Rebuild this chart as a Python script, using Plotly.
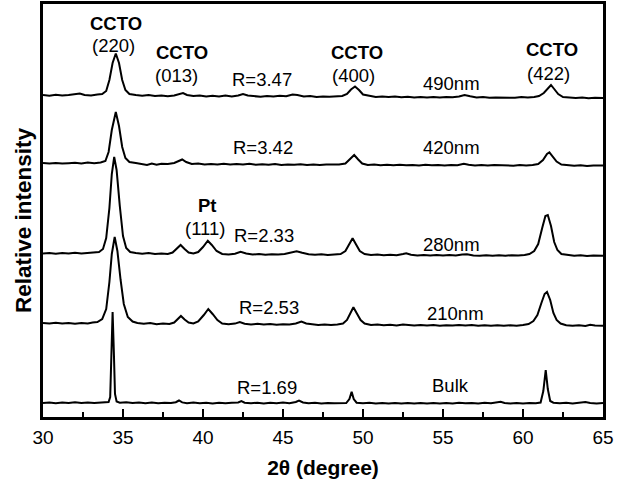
import plotly.graph_objects as go

# ---- data (2theta in degrees, relative intensity above each trace's own baseline) ----
pts_490 = [(30.0,1),(30.4,0.3),(30.8,1.2),(31.2,0.5),(31.6,1),(32.0,1.5),(32.3,2.5),(32.6,1),(33.0,0.5),(33.4,1.5),
           (33.7,2),(33.95,5),(34.15,16),(34.35,33),(34.55,42.5),(34.75,33),(34.95,16),(35.15,6),(35.4,2),(35.8,1),
           (36.2,0.3),(36.6,1),(37.0,0),(37.4,0.6),(37.8,-0.3),(38.2,0.5),(38.5,1.5),(38.75,3),(39.0,1),(39.4,0),
           (39.8,0.6),(40.2,-0.5),(40.6,0.3),(41.0,-0.4),(41.4,0.5),(41.8,-0.5),(42.2,0.5),(42.5,2),(42.8,0.5),(43.2,-0.3),
           (43.6,-0.8),(44.0,0),(44.4,-0.5),(44.8,0.2),(45.2,-0.3),(45.6,1.5),(45.9,1),(46.3,-0.5),(46.7,0),(47.1,-1),
           (47.5,-0.4),(47.9,-0.8),(48.3,-0.5),(48.7,0),(49.0,2),(49.25,6.5),(49.5,9.5),(49.75,6),(50.0,1.5),(50.4,0),
           (50.8,-1),(51.2,-0.5),(51.6,-1),(52.0,-0.6),(52.4,-1.2),(52.8,-0.8),(53.2,-1.5),(53.6,-1),(54.0,-1.4),(54.4,-1),
           (54.8,-1.5),(55.2,-1),(55.6,-1.3),(56.0,-0.5),(56.35,1),(56.7,-0.3),(57.1,-1.5),(57.5,-1),(57.9,-1.8),(58.3,-1.4),
           (58.7,-1.6),(59.1,-1.2),(59.5,-1.8),(59.9,-1),(60.3,-1.5),(60.7,-1),(61.0,0),(61.3,3),(61.55,8),(61.75,11),
           (61.95,7),(62.2,2),(62.5,-1),(62.9,-1.5),(63.3,-2),(63.7,-1.6),(64.1,-2.2),(64.5,-1.8),(65.0,-2)]

pts_420 = [(30.0,1),(30.4,0.4),(30.8,1),(31.2,0.5),(31.6,0.8),(32.0,1.2),(32.4,0.6),(32.8,1.4),(33.2,0.8),(33.6,1.5),
           (33.9,3),(34.1,12),(34.3,34),(34.55,52),(34.75,38),(34.95,17),(35.15,6),(35.4,2),(35.8,1),(36.2,0),
           (36.5,-1),(36.8,0.5),(37.1,-0.8),(37.4,0.3),(37.8,0),(38.2,1),(38.45,2.5),(38.7,4.5),(38.95,2),(39.3,0),
           (39.7,0.5),(40.1,-0.5),(40.5,0),(40.9,-0.6),(41.3,0.3),(41.7,-0.4),(42.1,0),(42.5,-0.6),(42.9,0.2),(43.3,-0.8),
           (43.7,-0.2),(44.1,-0.7),(44.5,0),(44.9,-0.9),(45.3,-0.4),(45.7,-0.8),(46.1,-0.2),(46.5,-1),(46.9,-0.5),(47.3,-1.1),
           (47.7,-0.6),(48.1,-0.9),(48.5,-0.5),(48.9,0.5),(49.2,5),(49.45,9),(49.7,4.5),(49.95,0.5),(50.3,-1),(50.7,-0.6),
           (51.1,-1.2),(51.5,-0.8),(51.9,-1.3),(52.3,-0.7),(52.7,-1.2),(53.1,-0.9),(53.5,-1.4),(53.9,-0.8),(54.3,-1.3),(54.7,-1),
           (55.1,-1.5),(55.5,-1),(55.9,-1.3),(56.3,0.2),(56.6,-0.8),(57.0,-1.5),(57.4,-1),(57.8,-1.6),(58.2,-1.1),(58.6,-1.5),
           (59.0,-1.2),(59.4,-1.7),(59.8,-1.1),(60.2,-1.5),(60.6,-1),(60.95,0),(61.25,4),(61.5,10),(61.65,11.7),(61.85,8),
           (62.1,2.5),(62.4,-0.5),(62.8,-1.3),(63.2,-1.8),(63.6,-1.3),(64.0,-1.9),(64.4,-1.4),(64.8,-1.8),(65.0,-1.5)]

pts_280 = [(30.0,0.5),(30.4,1),(30.8,0.3),(31.2,1),(31.6,0.5),(32.0,1.3),(32.4,0.6),(32.8,1),(33.2,1.6),(33.5,2),
           (33.75,5),(33.95,16),(34.15,46),(34.3,80),(34.45,97),(34.6,84),(34.8,48),(35.0,18),(35.2,6),(35.45,2),
           (35.8,1),(36.2,0.3),(36.6,1),(37.0,0),(37.4,0.6),(37.8,0),(38.1,1.5),(38.35,5),(38.6,9),(38.85,5),
           (39.1,1.5),(39.4,0.5),(39.7,2),(40.0,7),(40.3,13.3),(40.55,9),(40.85,3),(41.2,0),(41.6,-0.5),(42.0,0.3),
           (42.35,2.2),(42.7,0.5),(43.1,-0.5),(43.5,0),(43.9,-0.8),(44.3,-0.2),(44.7,-0.6),(45.1,0),(45.5,1.5),(45.85,2.8),
           (46.2,1.2),(46.6,-0.3),(47.0,-0.8),(47.4,-0.3),(47.8,-1),(48.2,-0.5),(48.6,0),(48.9,3),(49.15,10),(49.35,15.7),
           (49.55,10),(49.8,3),(50.1,0),(50.5,-1),(50.9,-0.5),(51.3,-1.2),(51.7,-0.8),(52.1,-1.3),(52.5,0),(52.7,0.8),
           (53.0,-0.8),(53.4,-1.4),(53.8,-0.9),(54.2,-1.5),(54.6,-1),(55.0,-1.4),(55.4,-1),(55.8,-1.6),(56.2,-0.6),(56.5,-0.2),
           (56.9,-1.4),(57.3,-1.8),(57.7,-1.2),(58.1,-1.7),(58.5,-1.3),(58.9,-1.8),(59.3,-1.2),(59.7,-1.6),(60.1,-1),(60.4,0),
           (60.7,3),(60.95,10),(61.2,26),(61.4,38),(61.55,39),(61.75,28),(61.95,12),(62.15,4),(62.4,0),(62.8,-1.2),
           (63.2,-1.8),(63.6,-1.3),(64.0,-2),(64.4,-1.5),(64.8,-2),(65.0,-1.8)]

pts_210 = [(30.0,1),(30.4,0.4),(30.8,1.2),(31.2,0.5),(31.6,1),(32.0,0.3),(32.4,1.1),(32.8,0.5),(33.1,1.5),(33.4,2),
           (33.7,5),(33.95,15),(34.15,42),(34.3,70),(34.48,87),(34.65,73),(34.85,44),(35.05,20),(35.3,7),(35.6,2.5),
           (35.9,1),(36.3,0.3),(36.7,1),(37.1,-0.3),(37.5,0.5),(37.9,0),(38.2,1.5),(38.4,4.5),(38.62,8),(38.85,4.5),
           (39.1,1.5),(39.4,0.5),(39.7,2.5),(40.05,9),(40.33,15),(40.6,10),(40.9,4),(41.2,0.5),(41.6,-0.3),(42.0,0.4),
           (42.3,2),(42.6,0.3),(43.0,-0.5),(43.4,0.2),(43.8,-0.6),(44.2,0),(44.6,-0.8),(45.0,-0.2),(45.4,-0.6),(45.8,0.5),
           (46.15,2.5),(46.45,0.5),(46.8,-0.5),(47.2,-1),(47.6,-0.4),(48.0,-1),(48.4,-0.5),(48.75,0.5),(49.0,4),(49.2,11),
           (49.4,16.7),(49.6,11),(49.85,4),(50.1,0.5),(50.5,-1),(50.9,-0.5),(51.3,-1.3),(51.7,-0.8),(52.1,-1.4),(52.5,-0.5),
           (52.8,-1.2),(53.2,-1.6),(53.6,-1),(54.0,-1.5),(54.4,-1.1),(54.8,-1.7),(55.2,-1.2),(55.6,-1.6),(56.0,-1),(56.4,-1.5),
           (56.8,-1.1),(57.2,-1.8),(57.6,-1.2),(58.0,-1.7),(58.4,-1.3),(58.8,-1.8),(59.2,-1.3),(59.6,-1.7),(60.0,-1),(60.35,0),
           (60.65,3),(60.9,9),(61.15,21),(61.35,30),(61.5,32),(61.7,24),(61.9,11),(62.1,4),(62.35,0.5),(62.7,-1.2),
           (63.1,-1.8),(63.5,-1.3),(63.9,-1.9),(64.2,-0.8),(64.5,-1.6),(64.8,-2),(65.0,-1.8)]

pts_bulk = [(30.0,0),(30.4,0.6),(30.8,-0.2),(31.2,0.5),(31.6,0),(32.0,0.7),(32.4,0.1),(32.8,0.6),(33.2,0),(33.6,0.5),
            (33.9,0.2),(34.1,1),(34.2,6),(34.27,45),(34.35,91),(34.43,50),(34.5,9),(34.6,1.5),(34.8,0.3),(35.2,0.8),
            (35.6,0),(36.0,0.6),(36.4,-0.2),(36.8,0.4),(37.2,-0.3),(37.6,0.3),(38.0,0),(38.3,0.8),(38.5,2.5),(38.7,0.6),
            (39.0,-0.2),(39.4,0.5),(39.8,-0.3),(40.2,0.3),(40.6,-0.4),(41.0,0.2),(41.4,-0.3),(41.8,0.2),(42.2,0.5),(42.4,2),
            (42.6,0.3),(43.0,-0.3),(43.4,0.3),(43.8,-0.4),(44.2,0.2),(44.6,-0.2),(45.0,0.4),(45.4,-0.3),(45.8,1),(46.0,2.5),
            (46.25,0.5),(46.6,-0.3),(47.0,0.2),(47.4,-0.4),(47.8,0.1),(48.2,-0.3),(48.6,0.2),(48.95,0),(49.15,4),(49.29,11.3),
            (49.42,4),(49.6,0.3),(50.0,-0.3),(50.4,0.2),(50.8,-0.4),(51.2,0.1),(51.6,-0.5),(52.0,0),(52.4,-0.4),(52.8,0.1),
            (53.2,-0.5),(53.6,0),(54.0,-0.4),(54.4,0.1),(54.8,-0.5),(55.2,0),(55.6,-0.4),(56.0,0.2),(56.4,-0.3),(56.8,0.1),
            (57.2,-0.4),(57.6,0.2),(58.0,-0.3),(58.4,0.4),(58.6,1.2),(58.85,0),(59.2,-0.4),(59.6,0.1),(60.0,-0.4),(60.4,0.1),
            (60.8,-0.3),(61.1,0.5),(61.27,12),(61.42,33),(61.55,14),(61.7,2),(61.9,0.3),(62.3,-0.3),(62.7,0.2),(63.1,-0.4),
            (63.5,0.1),(63.9,0.9),(64.2,0),(64.6,-0.4),(65.0,0)]

series_names = ["490nm", "420nm", "280nm", "210nm", "Bulk"]
series_pts = [pts_490, pts_420, pts_280, pts_210, pts_bulk]
series_offset = [321, 253, 163, 93, 14]   # vertical stacking offsets (arbitrary units)

x_ticks = [30, 35, 40, 45, 50, 55, 60, 65]

# labels: text, x (degree), y (arbitrary units), bold
labels = [
    ("CCTO", 34.55, 394, True), ("(220)", 34.4, 372, False),
    ("CCTO", 38.7, 365, True), ("(013)", 38.35, 342, False),
    ("R=3.47", 43.7, 338, False),
    ("CCTO", 49.6, 365, True), ("(400)", 49.4, 342, False),
    ("490nm", 55.5, 334, False),
    ("CCTO", 61.8, 368, True), ("(422)", 61.6, 344, False),
    ("R=3.42", 43.75, 270, False), ("420nm", 55.5, 270, False),
    ("Pt", 40.3, 212, True), ("(111)", 40.1, 189, False),
    ("R=2.33", 43.8, 182, False), ("280nm", 55.5, 173, False),
    ("R=2.53", 44.1, 110, False), ("210nm", 55.75, 104, False),
    ("R=1.69", 44.0, 30, False), ("Bulk", 55.44, 32, False),
]

FONT = "Liberation Sans, Arial, Helvetica, sans-serif"

fig = go.Figure()
for name, pts, off in zip(series_names, series_pts, series_offset):
    xs = [p[0] for p in pts]
    ys = [p[1] + off for p in pts]
    fig.add_trace(go.Scatter(x=xs, y=ys, mode="lines", name=name,
                             line=dict(color="black", width=2), showlegend=False))

for text, x, y, bold in labels:
    fig.add_annotation(x=x, y=y, xref="x", yref="y", text=f"<b>{text}</b>" if bold else text,
                       showarrow=False, font=dict(family=FONT, size=18.5, color="black"),
                       xanchor="center", yanchor="middle")

# y-axis title (placed as rotated text so it sits where the reference has it)
fig.add_annotation(x=0, y=197, xref="paper", yref="y", xshift=-20, textangle=-90,
                   text="<b>Relative intensity</b>", showarrow=False,
                   font=dict(family=FONT, size=22.5, color="black"),
                   xanchor="center", yanchor="middle")

fig.update_layout(
    width=628, height=481,
    margin=dict(l=43, r=25, t=4, b=64),
    paper_bgcolor="white", plot_bgcolor="white",
    font=dict(family=FONT, size=18, color="black"),
    xaxis=dict(range=[30, 65], tickvals=x_ticks, ticks="inside", ticklen=8, tickwidth=2,
               tickcolor="black", showline=True, linecolor="black", linewidth=2.5, mirror=True,
               showgrid=False, zeroline=False, ticklabelstandoff=1,
               tickfont=dict(family=FONT, size=19, color="black"),
               minor=dict(ticks="inside", ticklen=5, tickwidth=2, tickcolor="black", dtick=2.5, tick0=30, showgrid=False),
               title=dict(text="<b>2θ (degree)</b>", font=dict(family=FONT, size=21, color="black"), standoff=14),
               automargin=False),
    yaxis=dict(range=[0, 413], showticklabels=False, ticks="", showline=True, linecolor="black",
               linewidth=2.5, mirror=True, showgrid=False, zeroline=False, automargin=False),
)

fig.write_html("out.html", config={"displayModeBar": False},
               post_script="document.body.style.margin='0px';document.body.style.padding='0px';")
